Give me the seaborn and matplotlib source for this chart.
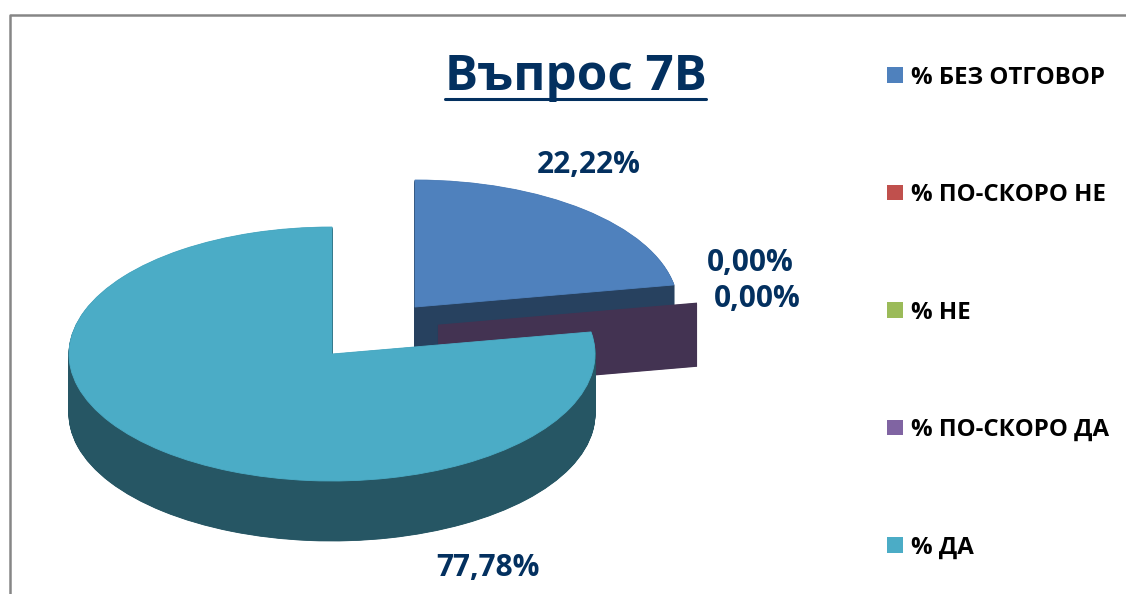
import matplotlib.pyplot as plt
from matplotlib.lines import Line2D
from matplotlib.patches import Patch
import seaborn as sns

W, H = 1126, 594

title = "Въпрос 7В"
categories = ["% БЕЗ ОТГОВОР", "% ПО-СКОРО НЕ", "% НЕ", "% ПО-СКОРО ДА", "% ДА"]
values = [22.22, 0.0, 0.0, 0.0, 77.78]
value_labels = ["22,22%", "0,00%", "0,00%", "77,78%"]

top_colors = ["#4F81BD", "#C0504D", "#9BBB59", "#8064A2", "#4BACC6"]
wall_colors = ["#27415F", "#C0504D", "#9BBB59", "#433352", "#265664"]
navy = "#03305F"

sns.set_theme(style="white")
plt.rcParams["font.family"] = ["Open Sans", "DejaVu Sans"]

RX, RY = 263, 127
SQUASH = RY / RX

fig = plt.figure(figsize=(W / 100, H / 100), dpi=100)
ax = fig.add_axes([0, 0, 1, 1])


def draw_slice(idx, x, y, depth, top=True):
    # the side wall is the same pie stacked downwards, top face goes last
    for d2 in range(depth * 2, -1, -1):
        d = d2 / 2
        if d == 0 and not top:
            continue
        color = top_colors[idx] if d == 0 else wall_colors[idx]
        wedges, _ = ax.pie(values, startangle=90, counterclock=False, radius=RX,
                           center=(x, (H - y - d) / SQUASH),
                           colors=[color] * len(values))
        for i, w in enumerate(wedges):
            if i != idx:
                w.set_visible(False)
            else:
                w.set_edgecolor(color)
                w.set_linewidth(1.2 if values[idx] == 0 else 0.6)


draw_slice(0, 415, 307, 60)
draw_slice(3, 438, 325, 63, top=False)
draw_slice(4, 332, 354, 60)

ax.set_aspect("auto")
ax.set_xlim(0, W)
ax.set_ylim(0, H / SQUASH)
ax.axis("off")


def put(x, y, s, size, **kw):
    return fig.text(x / W, 1 - y / H, s, fontsize=size, fontweight="bold", color=navy,
                    ha="center", va="center", **kw)


put(576, 78, title, 35.5)
fig.add_artist(Line2D([445 / W, 706 / W], [1 - 99 / H] * 2, color=navy, lw=2.2))

put(589, 165, value_labels[0], 21.5)
put(750, 263, value_labels[1], 21.5)
put(757, 299, value_labels[2], 21.5)
put(488, 568, value_labels[3], 21.5)

handles = [Patch(facecolor=c, edgecolor="none") for c in top_colors]
leg = fig.legend(handles, categories, loc="upper left", bbox_to_anchor=(865 / W, 1 - 44 / H),
                 frameon=False, labelspacing=3.89, handlelength=0.67, handleheight=0.62,
                 handletextpad=0.33, prop={"size": 17.3, "weight": "bold"})
for t in leg.get_texts():
    t.set_color("black")

# chart frame, only the top and left edges are in the crop
frame = "#868686"
fig.add_artist(Line2D([10.5 / W, 1], [1 - 14.5 / H] * 2, color=frame, lw=1.8))
fig.add_artist(Line2D([10 / W] * 2, [0, 1 - 14.5 / H], color=frame, lw=1.8))

fig.savefig("out.png", dpi=100, facecolor="white")
